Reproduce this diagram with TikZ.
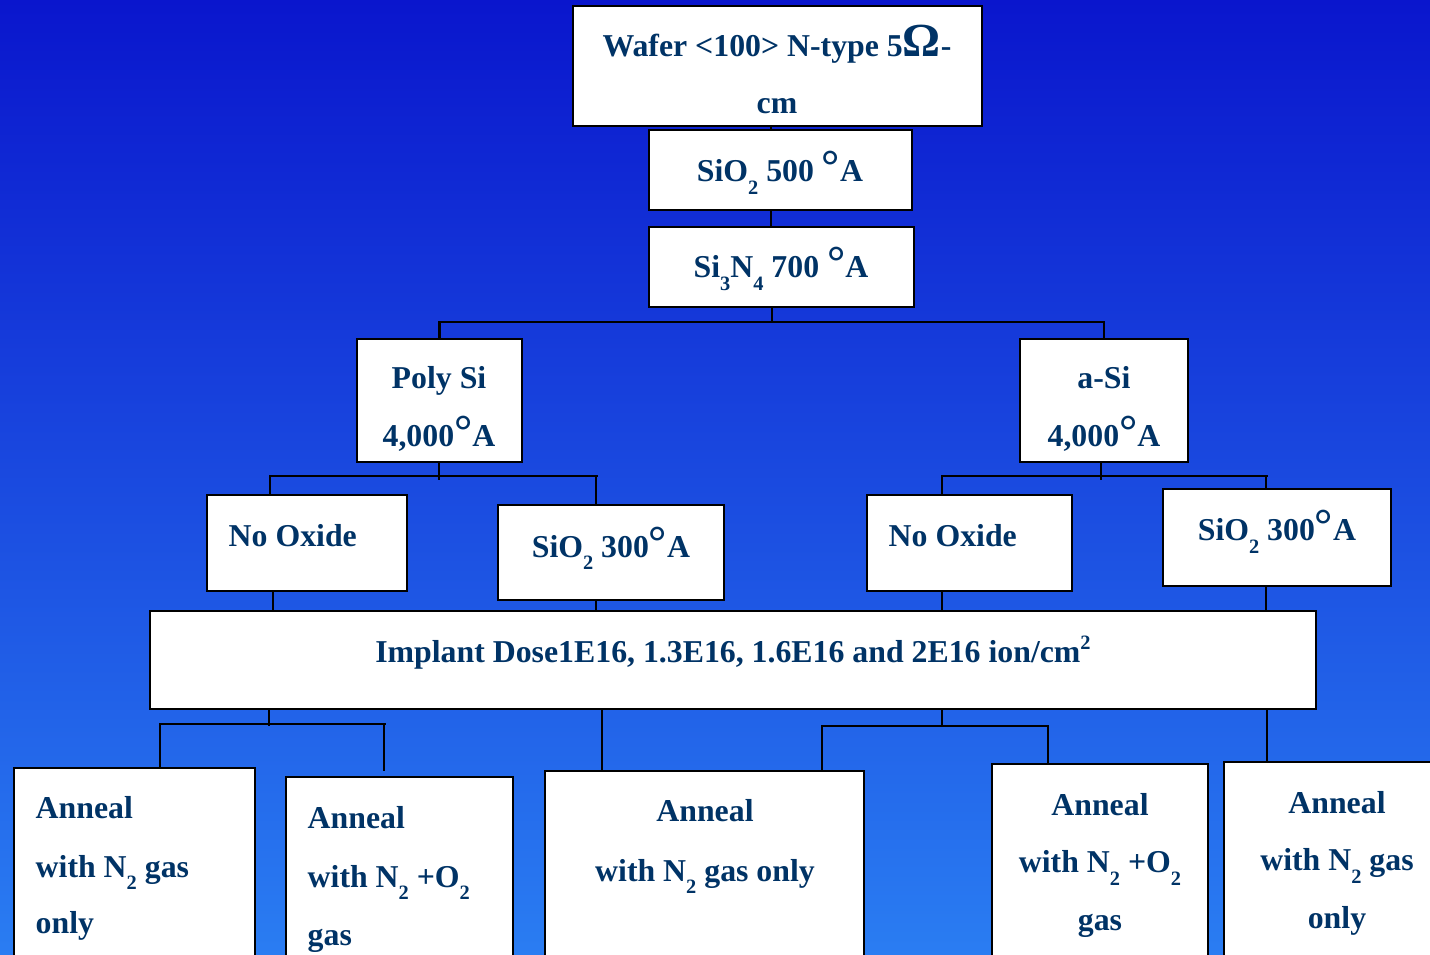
\documentclass[tikz,border=0pt]{standalone}
\usepackage{fontspec}
\setmainfont{Liberation Serif}
\definecolor{navy}{RGB}{0,51,102}
\definecolor{bgtop}{RGB}{10,22,205}
\definecolor{bgbot}{RGB}{42,125,242}
\newcommand{\lowr}[1]{\raisebox{-0.4em}{\fontsize{5.8}{6}\selectfont #1}}
\newcommand{\upr}[1]{\raisebox{0.42em}{\fontsize{5.8}{6}\selectfont #1}}
\newcommand{\degA}{{\fontsize{13}{13}\selectfont °}A}
\newcommand{\bigOm}{{\fontsize{13.5}{13.5}\selectfont Ω}}
\begin{document}
\begin{tikzpicture}[x=0.1mm,y=-0.1mm,
  box/.style={draw=black, line width=0.7pt, fill=white, inner sep=0, outer sep=0, anchor=north west},
  txt/.style={font=\fontsize{9.05}{11}\selectfont\bfseries, text=navy, inner sep=0, anchor=base},
  ltxt/.style={txt, anchor=base west},
  conn/.style={draw=black, line width=0.6pt}]
\useasboundingbox (0,0) rectangle (1430,955);
\clip (0,0) rectangle (1430,955);
\shade[top color=bgtop, bottom color=bgbot] (0,0) rectangle (1430,955);

% boxes
\node[box, minimum width=40.9mm, minimum height=12mm] (wafer) at (573,6) {};
\node[box, minimum width=26.3mm, minimum height=8mm] (sio2a) at (649,130) {};
\node[box, minimum width=26.5mm, minimum height=8mm] (sin) at (649,227) {};
\node[box, minimum width=16.5mm, minimum height=12.3mm] (poly) at (357,339) {};
\node[box, minimum width=16.8mm, minimum height=12.3mm] (asi) at (1020,339) {};
\node[box, minimum width=20mm, minimum height=9.6mm] (nox1) at (207,495) {};
\node[box, minimum width=22.6mm, minimum height=9.5mm] (sio2l) at (498,505) {};
\node[box, minimum width=20.5mm, minimum height=9.6mm] (nox2) at (867,495) {};
\node[box, minimum width=22.8mm, minimum height=9.7mm] (sio2r) at (1163,489) {};
\node[box, minimum width=116.6mm, minimum height=9.8mm] (impl) at (150,611) {};
\node[box, minimum width=24.1mm, minimum height=25mm] (an1) at (14,768) {};
\node[box, minimum width=22.7mm, minimum height=25mm] (an2) at (286,777) {};
\node[box, minimum width=31.9mm, minimum height=25mm] (an3) at (545,771) {};
\node[box, minimum width=21.6mm, minimum height=25mm] (an4) at (992,764) {};
\node[box, minimum width=23mm, minimum height=25mm] (an5) at (1224,762) {};

% texts
\node[txt] (waferT1) at (777,57) {Wafer <100> N-type 5\bigOm-};
\node[txt] (waferT2) at (777,114) {cm};
\node[txt] (sio2aT) at (780,182) {SiO\lowr{2} 500 \degA};
\node[txt] (sinT) at (781,278) {Si\lowr{3}N\lowr{4} 700 \degA};
\node[txt] (polyT1) at (439,389) {Poly Si};
\node[txt] (polyT2) at (439,447) {4,000\degA};
\node[txt] (asiT1) at (1104,389) {a-Si};
\node[txt] (asiT2) at (1104,447) {4,000\degA};
\node[ltxt] (nox1T) at (228,547) {No Oxide};
\node[txt] (sio2lT) at (611,557) {SiO\lowr{2} 300\degA};
\node[ltxt] (nox2T) at (888,547) {No Oxide};
\node[txt] (sio2rT) at (1277,541) {SiO\lowr{2} 300\degA};
\node[txt] (implT) at (733,663) {Implant Dose1E16, 1.3E16, 1.6E16 and 2E16 ion/cm\upr{2}};
\node[ltxt] (an1T1) at (35,818) {Anneal};
\node[ltxt] (an1T2) at (35,877) {with N\lowr{2} gas};
\node[ltxt] (an1T3) at (35,933) {only};
\node[ltxt] (an2T1) at (307,828) {Anneal};
\node[ltxt] (an2T2) at (307,887) {with N\lowr{2} +O\lowr{2}};
\node[ltxt] (an2T3) at (307,945) {gas};
\node[txt] (an3T1) at (705,822) {Anneal};
\node[txt] (an3T2) at (705,881) {with N\lowr{2} gas only};
\node[txt] (an4T1) at (1100,815) {Anneal};
\node[txt] (an4T2) at (1100,873) {with N\lowr{2} +O\lowr{2}};
\node[txt] (an4T3) at (1100,930) {gas};
\node[txt] (an5T1) at (1337,813) {Anneal};
\node[txt] (an5T2) at (1337,871) {with N\lowr{2} gas};
\node[txt] (an5T3) at (1337,928) {only};

% connectors
\draw[conn] (771,0 |- wafer.south) -- (771,0 |- sio2a.north);
\draw[conn] (771,0 |- sio2a.south) -- (771,0 |- sin.north);
\draw[conn] (772,0 |- sin.south) -- (772,322);
\draw[conn] (poly.north) -- (poly.north |- 0,322) -- (asi.north |- 0,322) -- (asi.north);

\draw[conn] (439,0 |- poly.south) -- (439,480);
\draw[conn] (270,0 |- nox1.north) -- (270,476) -- (598,476);
\draw[conn] (596,476) -- (596,0 |- sio2l.north);

\draw[conn] (1101,0 |- asi.south) -- (1101,480);
\draw[conn] (942,0 |- nox2.north) -- (942,476) -- (1268,476);
\draw[conn] (1266,476) -- (1266,0 |- sio2r.north);

\foreach \x/\n in {273/nox1, 596/sio2l, 942/nox2, 1266/sio2r}
  \draw[conn] (\x,0 |- \n.south) -- (\x,0 |- impl.north);

\coordinate (an2stub) at (384,771);
\draw[conn] (269,0 |- impl.south) -- (269,726);
\draw[conn] (160,0 |- an1.north) -- (160,724) -- (386,724);
\draw[conn] (384,724) -- (an2stub);
\draw[conn] (602,0 |- impl.south) -- (602,0 |- an3.north);
\draw[conn] (942,0 |- impl.south) -- (942,726);
\draw[conn] (822,0 |- an3.north) -- (822,726) -- (1048,726) -- (1048,0 |- an4.north);
\draw[conn] (1267,0 |- impl.south) -- (1267,0 |- an5.north);
\end{tikzpicture}
\end{document}
